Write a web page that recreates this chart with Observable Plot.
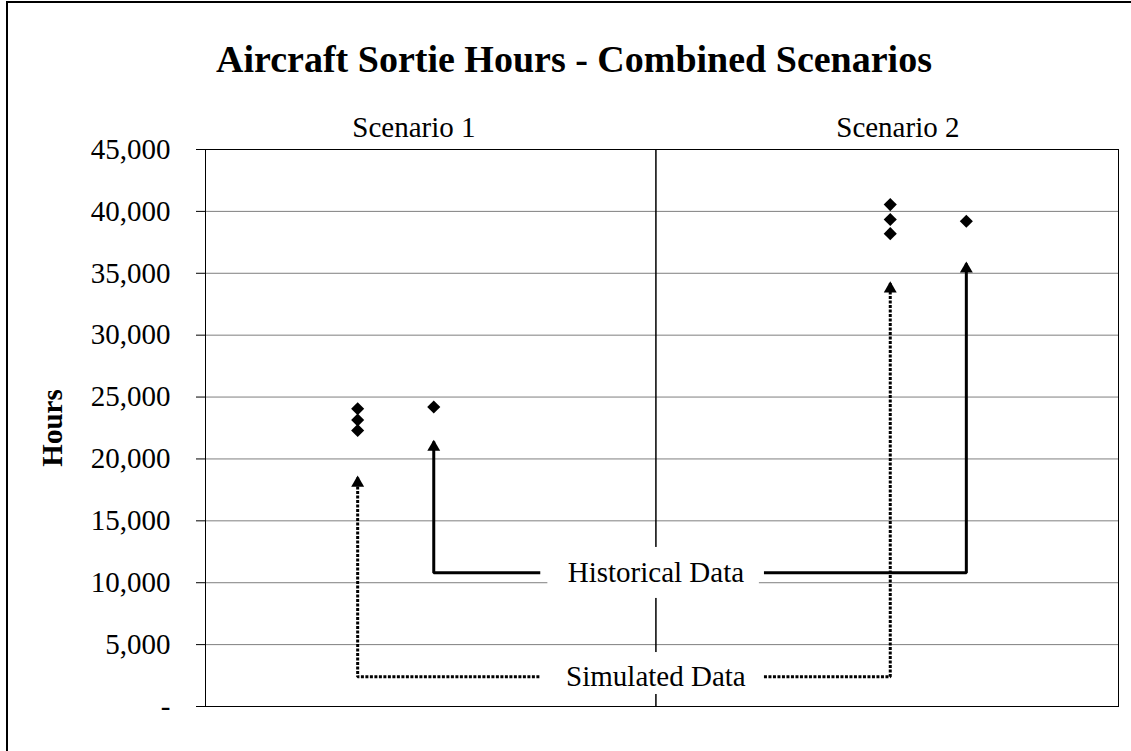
<!DOCTYPE html>
<html><head><meta charset="utf-8">
<script src="https://cdn.jsdelivr.net/npm/d3@7"></script>
<script src="https://cdn.jsdelivr.net/npm/@observablehq/plot@0.6"></script>
<style>
body{margin:0;background:#fff;}
#wrap{position:relative;width:1131px;height:751px;overflow:hidden;background:#fff;}
#border{position:absolute;left:6px;top:1px;right:-10px;bottom:-10px;border-left:2px solid #000;border-top:2px solid #000;pointer-events:none;}
</style></head><body>
<div id="wrap"><div id="chart"></div><div id="border"></div></div>
<script>
// ---- data ----
const titleText = "Aircraft Sortie Hours - Combined Scenarios";
const scenarios = ["Scenario 1", "Scenario 2"];
const scenarioLabelX = [1.37, 4.55];
const simX = [1, 4.5];
const simValues = [[24050, 23150, 22300], [40550, 39350, 38200]];
const histX = [1.5, 5];
const histValues = [24200, 39200];
const yTicks = [0, 5000, 10000, 15000, 20000, 25000, 30000, 35000, 40000, 45000];

// ---- annotation (callouts) ----
const calloutLabels = ["Historical Data", "Simulated Data"];
const calloutLevels = [10800, 2400];
const histArrowTips = [21400, 35800];
const simArrowTips = [18500, 34200];
const dividerX = 2.96;
const gapX = [2.2, 3.67];
const boxX = [2.25, 3.64];
const boxY = [[12850, 8730], [4360, 970]];

// ---- build tables ----
const points = [];
simValues.forEach((vals, i) => vals.forEach(v => points.push({x: simX[i], y: v})));
histValues.forEach((v, i) => points.push({x: histX[i], y: v}));

function connector(xs, tips, level, key) {
  return [
    {k: key + "L", x: xs[0], y: tips[0]}, {k: key + "L", x: xs[0], y: level}, {k: key + "L", x: gapX[0], y: level},
    {k: key + "R", x: gapX[1], y: level}, {k: key + "R", x: xs[1], y: level}, {k: key + "R", x: xs[1], y: tips[1]}
  ];
}
const histPath = connector(histX, histArrowTips, calloutLevels[0], "h");
const simPath = connector(simX, simArrowTips, calloutLevels[1], "s");
const tips = [
  ...histX.map((x, i) => ({x, y: histArrowTips[i]})),
  ...simX.map((x, i) => ({x, y: simArrowTips[i]}))
];
const boxes = boxY.map(([y1, y2]) => ({x1: boxX[0], x2: boxX[1], y1, y2}));
const callouts = calloutLabels.map((label, i) => ({label, x: dividerX, y: calloutLevels[i]}));
const scen = scenarios.map((label, i) => ({label, x: scenarioLabelX[i], y: yTicks[yTicks.length - 1]}));

const font = "Liberation Serif, Times New Roman, serif";
const chart = Plot.plot({
  width: 1131, height: 751,
  marginLeft: 205, marginRight: 13, marginTop: 149, marginBottom: 45,
  style: {fontFamily: font, fontSize: "29px", background: "white", color: "black"},
  x: {domain: [0, 6], axis: null},
  y: {domain: [0, 45000], label: null},
  marks: [
    Plot.ruleY(yTicks, {stroke: "#7f7f7f", strokeWidth: 1}),
    Plot.ruleX([dividerX], {y1: 0, y2: 45000, stroke: "black", strokeWidth: 1.5}),
    Plot.rect(boxes, {x1: "x1", x2: "x2", y1: "y1", y2: "y2", fill: "white"}),
    Plot.frame({stroke: "black", strokeWidth: 1}),
    Plot.axisY({ticks: yTicks, tickSize: 9, tickPadding: 26, fontSize: 29, label: null,
      tickFormat: d => d === 0 ? "-" : d3.format(",")(d)}),
    Plot.line(histPath, {x: "x", y: "y", z: "k", stroke: "black", strokeWidth: 3, strokeLinecap: "butt", strokeLinejoin: "miter"}),
    Plot.line(simPath, {x: "x", y: "y", z: "k", stroke: "black", strokeWidth: 3, strokeDasharray: "3,1.5", strokeLinecap: "butt", strokeLinejoin: "miter"}),
    Plot.dot(tips, {x: "x", y: "y", symbol: "triangle", r: 4.8, fill: "black", stroke: "none", dy: 5.5}),
    Plot.dot(points, {x: "x", y: "y", symbol: "diamond2", r: 5.9, fill: "black", stroke: "none"}),
    Plot.text(callouts, {x: "x", y: "y", text: "label", fontSize: 29, fill: "black"}),
    Plot.text(scen, {x: "x", y: "y", text: "label", fontSize: 29, fill: "black", dy: -22}),
    Plot.text([titleText], {frameAnchor: "top", dx: -88, dy: -104, fontSize: 38, fontWeight: "bold", fill: "black"}),
    Plot.text(["Hours"], {frameAnchor: "left", textAnchor: "middle", dx: -153, rotate: -90, fontSize: 29, fontWeight: "bold", fill: "black"})
  ]
});
document.getElementById("chart").appendChild(chart);
</script>
</body></html>
